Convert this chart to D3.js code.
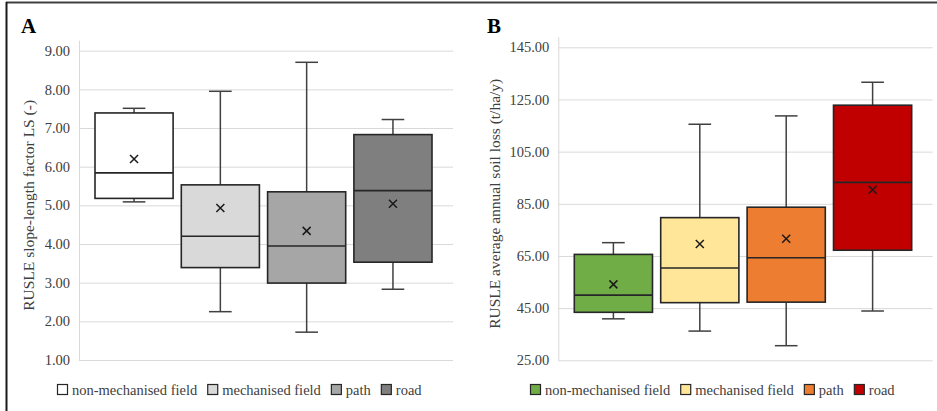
<!DOCTYPE html>
<html lang="en">
<head>
  <meta charset="UTF-8">
  <title>RUSLE box plots</title>
  <style>
    body { margin: 0; background: #fff; }
    .grid line { stroke: #d9d9d9; stroke-width: 1; }
    .grid path { display: none; }
    .ticks path, .ticks line { display: none; }
  </style>
</head>
<body>
  <div id="chart"></div>
  <script src="https://d3js.org/d3.v7.min.js"></script>
  <script>
    // categories (series) shown in both panels
    var categories = ['non-mechanised field', 'mechanised field', 'path', 'road']

    // panel A: RUSLE slope-length factor LS
    var lsMin    = [5.09, 2.25, 1.72, 2.83]
    var lsQ1     = [5.18, 3.39, 2.99, 3.53]
    var lsMedian = [5.84, 4.20, 3.95, 5.38]
    var lsQ3     = [7.39, 5.53, 5.35, 6.83]
    var lsMax    = [7.51, 7.95, 8.70, 7.22]
    var lsMean   = [6.20, 4.93, 4.34, 5.04]
    var lsTicks  = [1, 2, 3, 4, 5, 6, 7, 8, 9]

    // panel B: RUSLE average annual soil loss (t/ha/y)
    var soilMin    = [40.9, 36.2, 30.6, 43.9]
    var soilQ1     = [43.4, 47.1, 47.3, 67.2]
    var soilMedian = [50.0, 60.4, 64.3, 93.2]
    var soilQ3     = [65.6, 79.7, 83.7, 122.8]
    var soilMax    = [70.1, 115.5, 118.7, 131.6]
    var soilMean   = [54.1, 69.6, 71.6, 90.4]
    var soilTicks  = [25, 45, 65, 85, 105, 125, 145]

    var colorsA = ['#ffffff', '#d9d9d9', '#a6a6a6', '#7f7f7f']
    var colorsB = ['#70ad47', '#ffe699', '#ed7d31', '#c00000']

    var serif = 'Liberation Serif'
    var width = 937
    var height = 411

    var svg = d3.select('#chart')
      .append('svg')
      .attr('width', width)
      .attr('height', height)

    // outer frame: top and left rules only
    svg.append('line')
      .attr('x1', 6).attr('x2', width).attr('y1', 2.5).attr('y2', 2.5)
      .attr('stroke', '#404040').attr('stroke-width', 2)
    svg.append('line')
      .attr('x1', 6.5).attr('x2', 6.5).attr('y1', 2).attr('y2', height)
      .attr('stroke', '#1a1a1a').attr('stroke-width', 2)

    function makeRows(min, q1, med, q3, max, mean) {
      return categories.map(function (c, i) {
        return { cat: c, min: min[i], q1: q1[i], med: med[i], q3: q3[i], max: max[i], mean: mean[i] }
      })
    }

    function drawPanel(opt) {
      var g = svg.append('g').attr('transform', 'translate(' + opt.left + ',0)')
      var plotW = opt.plotRight - opt.plotLeft

      var y = d3.scaleLinear()
        .domain(d3.extent(opt.ticks))
        .range([opt.plotBottom, opt.plotTop])

      var x = d3.scaleBand()
        .domain(categories)
        .range([opt.plotLeft + 16, opt.plotRight - 21])
        .paddingInner(0.095)

      // gridlines
      g.append('g')
        .attr('class', 'grid')
        .attr('transform', 'translate(' + opt.plotLeft + ',0)')
        .call(d3.axisRight(y).tickValues(opt.ticks).tickSize(plotW).tickFormat(''))
      g.append('line')
        .attr('x1', opt.plotLeft + 0.5).attr('x2', opt.plotLeft + 0.5)
        .attr('y1', opt.plotTop - 10).attr('y2', opt.plotBottom)
        .attr('stroke', '#d9d9d9')

      // tick labels
      var ticks = g.append('g')
        .attr('class', 'ticks')
        .attr('transform', 'translate(' + (opt.plotLeft - 9) + ',0)')
        .call(d3.axisLeft(y).tickValues(opt.ticks).tickSize(0).tickPadding(0).tickFormat(d3.format('.2f')))
      ticks.selectAll('text')
        .attr('font-family', serif)
        .attr('font-size', 14.5)
        .attr('fill', '#404040')

      // axis title
      g.append('text')
        .attr('transform', 'translate(' + opt.titleX + ',' + ((opt.plotTop + opt.plotBottom) / 2) + ') rotate(-90)')
        .attr('text-anchor', 'middle')
        .attr('dy', '0.35em')
        .attr('font-family', serif)
        .attr('font-size', 15.5)
        .attr('fill', '#404040')
        .text(opt.title)

      // panel letter
      g.append('text')
        .attr('x', opt.letterX)
        .attr('y', 33)
        .attr('font-family', serif)
        .attr('font-size', 21)
        .attr('font-weight', 'bold')
        .attr('fill', '#000')
        .text(opt.letter)

      var bw = x.bandwidth()
      var cap = bw * 0.29
      var boxes = g.selectAll('.box')
        .data(opt.rows)
        .enter()
        .append('g')
        .attr('class', 'box')

      // whiskers
      boxes.append('line')
        .attr('x1', function (d) { return x(d.cat) + bw / 2 })
        .attr('x2', function (d) { return x(d.cat) + bw / 2 })
        .attr('y1', function (d) { return y(d.max) })
        .attr('y2', function (d) { return y(d.q3) })
        .attr('stroke', '#404040').attr('stroke-width', 1.5)
      boxes.append('line')
        .attr('x1', function (d) { return x(d.cat) + bw / 2 })
        .attr('x2', function (d) { return x(d.cat) + bw / 2 })
        .attr('y1', function (d) { return y(d.q1) })
        .attr('y2', function (d) { return y(d.min) })
        .attr('stroke', '#404040').attr('stroke-width', 1.5)
      ;['max', 'min'].forEach(function (k) {
        boxes.append('line')
          .attr('x1', function (d) { return x(d.cat) + bw / 2 - cap / 2 })
          .attr('x2', function (d) { return x(d.cat) + bw / 2 + cap / 2 })
          .attr('y1', function (d) { return y(d[k]) })
          .attr('y2', function (d) { return y(d[k]) })
          .attr('stroke', '#404040').attr('stroke-width', 1.5)
      })

      // box
      boxes.append('rect')
        .attr('x', function (d) { return x(d.cat) })
        .attr('width', bw)
        .attr('y', function (d) { return y(d.q3) })
        .attr('height', function (d) { return y(d.q1) - y(d.q3) })
        .attr('fill', function (d, i) { return opt.colors[i] })
        .attr('stroke', '#262626').attr('stroke-width', 1.6)

      // median
      boxes.append('line')
        .attr('x1', function (d) { return x(d.cat) })
        .attr('x2', function (d) { return x(d.cat) + bw })
        .attr('y1', function (d) { return y(d.med) })
        .attr('y2', function (d) { return y(d.med) })
        .attr('stroke', '#262626').attr('stroke-width', 1.6)

      // mean marker (x)
      var m = 4
      boxes.append('path')
        .attr('d', function (d) {
          var cx = x(d.cat) + bw / 2
          var cy = y(d.mean)
          return 'M' + (cx - m) + ',' + (cy - m) + 'L' + (cx + m) + ',' + (cy + m) +
            'M' + (cx - m) + ',' + (cy + m) + 'L' + (cx + m) + ',' + (cy - m)
        })
        .attr('stroke', '#1a1a1a').attr('stroke-width', 1.5).attr('fill', 'none')

      // legend
      var legend = g.append('g').attr('transform', 'translate(' + opt.legendX + ',390)')
      var lx = 0
      categories.forEach(function (c, i) {
        var item = legend.append('g').attr('transform', 'translate(' + lx + ',0)')
        item.append('rect')
          .attr('x', 0.5).attr('y', -5.5).attr('width', 10).attr('height', 10)
          .attr('fill', opt.colors[i]).attr('stroke', '#262626').attr('stroke-width', 1.2)
        var t = item.append('text')
          .attr('x', 15).attr('dy', '0.35em')
          .attr('font-family', serif)
          .attr('font-size', 14.5)
          .attr('fill', '#404040')
          .text(c)
        lx += 15 + t.node().getComputedTextLength() + 10
      })
    }

    drawPanel({
      left: 0, plotLeft: 79, plotRight: 453, plotTop: 50.7, plotBottom: 360,
      ticks: lsTicks, rows: makeRows(lsMin, lsQ1, lsMedian, lsQ3, lsMax, lsMean),
      colors: colorsA, title: 'RUSLE slope-length factor LS (-)', titleX: 29,
      letter: 'A', letterX: 21, legendX: 57
    })

    drawPanel({
      left: 470, plotLeft: 88.3, plotRight: 462.7, plotTop: 47.3, plotBottom: 360.3,
      ticks: soilTicks, rows: makeRows(soilMin, soilQ1, soilMedian, soilQ3, soilMax, soilMean),
      colors: colorsB, title: 'RUSLE average annual soil loss (t/ha/y)', titleX: 25,
      letter: 'B', letterX: 17, legendX: 60
    })
  </script>
</body>
</html>
